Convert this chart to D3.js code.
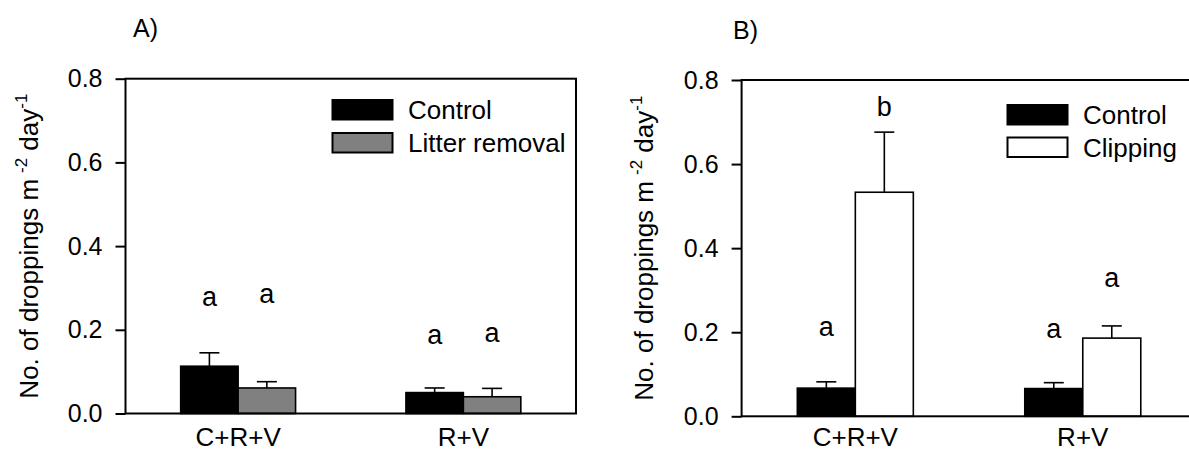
<!DOCTYPE html>
<html lang="en">
<head>
<meta charset="UTF-8">
<title>Droppings</title>
<script src="https://d3js.org/d3.v7.min.js"></script>
<style>
  body { margin: 0; background: #fff; }
  svg { display: block; font-family: "Liberation Sans", Arial, sans-serif; }
</style>
</head>
<body>
<svg width="1189" height="453"></svg>
<script>
const groups = ["C+R+V", "R+V"];
const yTicks = [0, 0.2, 0.4, 0.6, 0.8];

// panel A
const seriesA = ["Control", "Litter removal"];
const controlA = [0.113, 0.050];
const controlErrA = [0.032, 0.011];
const litterA = [0.061, 0.040];
const litterErrA = [0.015, 0.020];
const lettersA = [["a", "a"], ["a", "a"]];          // [series][group]
const letterYA = [[0.257, 0.165], [0.263, 0.171]];  // letter baseline, in axis units

// panel B
const seriesB = ["Control", "Clipping"];
const controlB = [0.067, 0.066];
const controlErrB = [0.015, 0.014];
const clippingB = [0.533, 0.186];
const clippingErrB = [0.143, 0.029];
const lettersB = [["a", "a"], ["b", "a"]];
const letterYB = [[0.191, 0.186], [0.714, 0.308]];

const svg = d3.select("svg");

function hText(g, x, y, str, size, anchor) {
  return g.append("text")
    .attr("x", x).attr("y", y)
    .attr("text-anchor", anchor || "start")
    .style("font-size", size + "px")
    .text(str);
}

function drawPanel(p) {
  const g = svg.append("g");
  const y = d3.scaleLinear().domain([0, 0.8]).range([p.bottom, p.top]);
  const x0 = d3.scaleBand().domain(groups).range([p.left, p.right])
    .paddingInner(0.49).paddingOuter(0.245);
  const x1 = d3.scaleBand().domain(p.series).range([0, x0.bandwidth()]);
  const bw = x1.bandwidth();

  p.series.forEach((s, i) => {
    const bars = groups.map((grp, j) => ({
      grp, v: p.values[i][j], e: p.errors[i][j],
      letter: p.letters[i][j], ly: p.letterY[i][j]
    }));
    const sg = g.append("g");
    const cx = d => x0(d.grp) + x1(s) + bw / 2;

    // upper error bars
    sg.selectAll("line.err").data(bars).join("line")
      .attr("class", "err")
      .attr("x1", cx).attr("x2", cx)
      .attr("y1", d => y(d.v)).attr("y2", d => y(d.v + d.e))
      .attr("stroke", "#000").attr("stroke-width", 1.6);
    sg.selectAll("line.cap").data(bars).join("line")
      .attr("class", "cap")
      .attr("x1", d => cx(d) - 10).attr("x2", d => cx(d) + 10)
      .attr("y1", d => y(d.v + d.e)).attr("y2", d => y(d.v + d.e))
      .attr("stroke", "#000").attr("stroke-width", 1.6);

    sg.selectAll("rect").data(bars).join("rect")
      .attr("x", d => x0(d.grp) + x1(s))
      .attr("y", d => y(d.v))
      .attr("width", bw)
      .attr("height", d => y(0) - y(d.v))
      .attr("fill", p.colors[i])
      .attr("stroke", "#000").attr("stroke-width", 1.6);

    bars.forEach(d => hText(sg, cx(d), y(d.ly), d.letter, 27, "middle"));
  });

  // frame
  g.append("rect")
    .attr("x", p.left).attr("y", p.top)
    .attr("width", p.right - p.left).attr("height", p.bottom - p.top)
    .attr("fill", "none").attr("stroke", "#000").attr("stroke-width", 2);

  // y axis
  const ag = g.append("g")
    .attr("transform", `translate(${p.left},0)`)
    .call(d3.axisLeft(y).tickValues(yTicks).tickFormat(d3.format(".1f")).tickSize(10).tickPadding(13));
  ag.select(".domain").remove();
  ag.selectAll(".tick line").attr("stroke-width", 2);
  ag.selectAll(".tick text")
    .attr("fill", "#000")
    .style("font-size", "25px")
    .style("font-family", "Liberation Sans, Arial, sans-serif");

  // category labels
  groups.forEach(grp => hText(g, x0(grp) + x0.bandwidth() / 2, 446, grp, 26, "middle"));

  // y title
  const yt = g.append("text")
    .attr("transform", `translate(${p.labelX},${(p.top + p.bottom) / 2}) rotate(-90)`)
    .attr("text-anchor", "middle")
    .style("font-size", "26px");
  yt.append("tspan").text("No. of droppings m");
  yt.append("tspan").attr("dx", 6).attr("dy", -11).style("font-size", "17px").text("-2");
  yt.append("tspan").attr("dy", 11).text(" day");
  yt.append("tspan").attr("dy", -11).style("font-size", "17px").text("-1");

  // legend
  p.series.forEach((s, i) => {
    g.append("rect")
      .attr("x", p.legendX).attr("y", p.legendY[i])
      .attr("width", 60).attr("height", 19.5)
      .attr("fill", p.colors[i]).attr("stroke", "#000").attr("stroke-width", 2);
    hText(g, p.legendX + 75.5, p.legendY[i] + 19, s, 26);
  });

  hText(g, p.titleX, p.titleY, p.title, 25);
}

drawPanel({
  title: "A)", titleX: 133, titleY: 37,
  left: 125.5, right: 576, top: 78.7, bottom: 413.5, labelX: 38,
  series: seriesA, colors: ["#000", "#808080"],
  values: [controlA, litterA], errors: [controlErrA, litterErrA],
  letters: lettersA, letterY: letterYA,
  legendX: 332.5, legendY: [100, 133]
});

drawPanel({
  title: "B)", titleX: 733, titleY: 39,
  left: 741.6, right: 1196.5, top: 80, bottom: 416.3, labelX: 653,
  series: seriesB, colors: ["#000", "#fff"],
  values: [controlB, clippingB], errors: [controlErrB, clippingErrB],
  letters: lettersB, letterY: letterYB,
  legendX: 1007.5, legendY: [105, 137.5]
});
</script>
</body>
</html>
